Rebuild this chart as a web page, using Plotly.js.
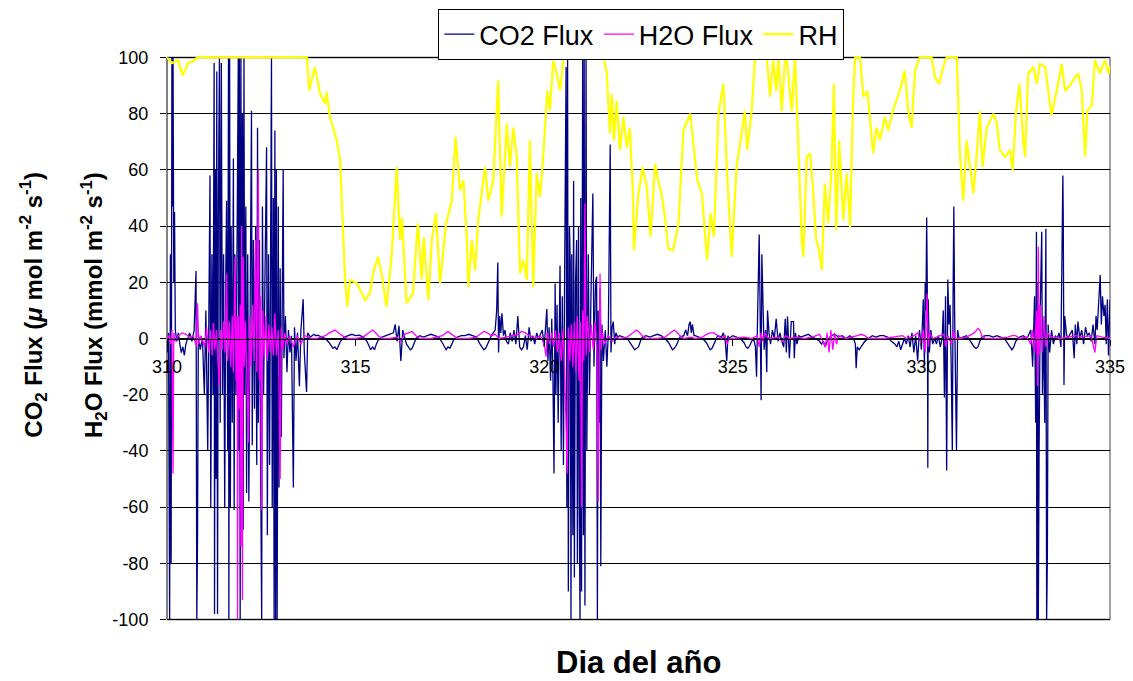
<!DOCTYPE html>
<html>
<head>
<meta charset="utf-8">
<script src="https://cdn.plot.ly/plotly-3.0.1.min.js"></script>
<style>
  html, body { margin: 0; padding: 0; background: #ffffff; }
  #chart { width: 1133px; height: 681px; }
</style>
</head>
<body>
<div id="chart"></div>
<script>
// Series names and axis labels
const seriesNames = ["CO2 Flux", "H2O Flux", "RH"];
const seriesColors = ["#000080", "#ff00ff", "#ffff00"];
const dayTicks = [310, 315, 320, 325, 330, 335];
const fluxTicks = [-100, -80, -60, -40, -20, 0, 20, 40, 60, 80, 100];

// CO2 flux [day of year, umol m-2 s-1]
const co2Series = [
  [310.00,0],[310.02,-5],[310.04,2],[310.07,-100],[310.09,30],[310.11,-80],[310.13,100],[310.15,47],[310.16,100],[310.18,20],
  [310.20,45],[310.22,3],[310.26,-1],[310.30,2],[310.34,-2],[310.38,-5],[310.42,-3],[310.46,-6],[310.50,-2],[310.54,0],
  [310.60,2],[310.66,-1],[310.72,3],[310.77,24],[310.79,-100],[310.81,-70],[310.83,2],[310.88,-4],[310.94,0],[310.99,-20],
  [311.03,10],[311.08,-40],[311.12,45],[311.14,58],[311.16,-60],[311.19,30],[311.22,-20],[311.25,98],[311.26,-98],[311.28,60],
  [311.30,-50],[311.32,95],[311.34,-98],[311.36,40],[311.39,100],[311.41,-30],[311.44,98],[311.47,-20],[311.50,30],[311.53,-60],
  [311.56,25],[311.58,49],[311.61,-40],[311.63,100],[311.64,-100],[311.66,100],[311.68,-60],[311.70,40],[311.73,-30],[311.76,64],
  [311.78,-61],[311.80,30],[311.83,-20],[311.86,55],[311.89,100],[311.90,-40],[311.92,100],[311.94,-100],[311.96,100],[311.98,-50],
  [312.00,80],[312.02,-68],[312.04,100],[312.06,-20],[312.09,47],[312.11,-55],[312.14,30],[312.17,-58],[312.20,20],[312.24,81],
  [312.26,-38],[312.29,35],[312.32,-25],[312.35,40],[312.38,-45],[312.40,75],[312.42,-30],[312.45,35],[312.48,-40],[312.51,-100],
  [312.53,47],[312.56,-20],[312.60,25],[312.64,68],[312.66,-70],[312.69,30],[312.72,-45],[312.75,40],[312.77,100],[312.79,-60],
  [312.82,50],[312.84,-100],[312.86,74],[312.88,-100],[312.90,60],[312.92,-100],[312.95,47],[312.97,-53],[313.00,25],[313.03,-35],
  [313.06,20],[313.08,60],[313.10,-7],[313.14,8],[313.18,-12],[313.22,3],[313.26,-5],[313.30,1],[313.35,-53],[313.38,4],
  [313.42,-8],[313.46,2],[313.51,-17],[313.55,3],[313.61,14],[313.64,-5],[313.70,-19],[313.73,2],[313.80,0.5],[313.85,1],
  [313.90,1.5],[313.95,1],[314.00,1.2],[314.10,0.5],[314.20,0],[314.30,-1.5],[314.35,-2.5],[314.40,-3.5],[314.45,-3],[314.50,-4],
  [314.55,-2.5],[314.60,-1],[314.70,0.5],[314.80,1],[314.90,1.5],[315.00,1],[315.10,1.2],[315.20,0.5],[315.30,-1],[315.35,-2.5],
  [315.40,-4],[315.45,-3],[315.50,-4],[315.55,-2],[315.60,-0.5],[315.70,0.5],[315.80,1],[315.90,1.5],[316.00,2],[316.05,5],
  [316.10,-1],[316.15,4.5],[316.20,-8],[316.25,3],[316.30,0],[316.35,-2],[316.40,-3],[316.45,-4],[316.50,-3.5],[316.55,-2],
  [316.60,0],[316.70,1],[316.80,0.5],[316.90,1],[317.00,1.5],[317.10,1],[317.20,0.5],[317.30,-1.5],[317.35,-3],[317.40,-4],
  [317.45,-3],[317.50,-3.5],[317.55,-2],[317.60,-0.5],[317.70,0.5],[317.80,1],[317.90,1],[318.00,1.5],[318.10,1],[318.20,0.5],
  [318.30,-2],[318.35,-3],[318.40,-4],[318.45,-3.5],[318.50,-2],[318.55,0],[318.60,1],[318.70,3],[318.74,10],[318.77,27],
  [318.79,-5],[318.82,8],[318.85,2],[318.88,9],[318.92,1],[318.96,3],[319.00,-1],[319.05,-2],[319.10,2],[319.15,-1],
  [319.20,3],[319.25,-2],[319.30,8],[319.35,-3],[319.40,-4],[319.45,-3],[319.50,1],[319.55,-4],[319.60,4],[319.65,-1],
  [319.70,1],[319.75,-2],[319.80,2],[319.85,0],[319.90,1.5],[319.95,3],[320.00,-3],[320.03,5],[320.07,10.5],[320.10,-8],
  [320.13,4],[320.17,-15],[320.20,7],[320.23,-12],[320.26,-48],[320.29,19.6],[320.31,-20],[320.34,12],[320.37,-30],[320.42,26],
  [320.45,-40],[320.48,15],[320.51,-45],[320.54,20],[320.58,96.6],[320.60,-60],[320.62,100],[320.64,-90],[320.67,40],[320.69,27],
  [320.71,-100],[320.73,30],[320.76,-70],[320.78,56],[320.80,-85],[320.83,20],[320.86,35],[320.88,-80],[320.91,40],[320.93,-60],
  [320.95,-100],[320.97,50],[320.99,-90],[321.02,100],[321.04,-70],[321.06,100],[321.08,-95],[321.11,100],[321.13,-40],[321.17,30],
  [321.20,-20],[321.24,15],[321.29,51.6],[321.32,-10],[321.36,20],[321.39,22],[321.41,-100],[321.43,10],[321.46,-30],[321.48,18],
  [321.50,-81],[321.53,5],[321.57,-8],[321.62,3],[321.66,-10],[321.70,2],[321.75,69],[321.77,-5],[321.80,4],[321.83,6],
  [321.87,-2],[321.90,2],[321.95,0.5],[322.00,1],[322.10,0.5],[322.20,0],[322.30,-2],[322.35,-3],[322.40,-4],[322.45,-3.5],
  [322.50,-3],[322.55,-1],[322.60,0.5],[322.70,1],[322.80,0.5],[322.90,1],[323.00,1.5],[323.10,1],[323.20,0],[323.30,-1.5],
  [323.35,-3],[323.40,-4],[323.45,-3.5],[323.50,-2.5],[323.55,-1],[323.60,0.5],[323.70,1],[323.75,3],[323.80,1],[323.84,5],
  [323.87,6],[323.90,2],[323.93,5],[323.97,1],[324.00,1],[324.10,0.5],[324.20,0],[324.30,-1.5],[324.35,-3],[324.40,-4],
  [324.45,-3.5],[324.50,-2],[324.55,-0.5],[324.60,1],[324.70,0.5],[324.75,2],[324.80,-1],[324.84,-8],[324.87,1],[324.90,0],
  [325.00,1],[325.10,0.5],[325.20,0],[325.30,-1.5],[325.35,-3],[325.40,-3.5],[325.45,-2.5],[325.50,-1],[325.55,0],[325.60,-3],
  [325.63,-13.6],[325.66,10],[325.68,20],[325.70,37],[325.72,15],[325.75,-22],[325.77,30],[325.80,5],[325.83,-4],[325.87,3],
  [325.90,-12],[325.92,10],[325.96,2],[326.00,-2],[326.05,3],[326.10,0],[326.15,7],[326.20,-1],[326.25,2],[326.30,-1],
  [326.35,-3],[326.39,7],[326.42,-5],[326.45,7.8],[326.50,-7],[326.55,6],[326.61,6],[326.63,-7],[326.66,2],[326.70,-2],
  [326.75,1],[326.80,0.5],[326.90,1],[327.00,1.5],[327.10,0.5],[327.20,0],[327.30,-1],[327.35,-2],[327.40,-1],[327.45,-3],
  [327.50,-1],[327.55,0],[327.60,1],[327.70,1.5],[327.80,0.5],[327.90,1],[328.00,0],[328.10,1],[328.20,0],[328.25,-2],
  [328.27,-10.6],[328.30,-3],[328.35,-4],[328.40,-3],[328.45,-2],[328.50,-1],[328.60,0],[328.70,1],[328.80,0.5],[328.90,1],
  [329.00,1],[329.10,0.5],[329.20,-1],[329.30,-2],[329.35,-3],[329.40,-1],[329.45,-4],[329.50,-2],[329.55,0],[329.60,-2],
  [329.65,1],[329.70,-3],[329.75,2],[329.80,-5],[329.85,1],[329.90,-8],[329.95,3],[330.00,-4],[330.03,8],[330.05,14],
  [330.08,-10],[330.10,20],[330.12,10],[330.14,43],[330.16,12],[330.17,-46],[330.18,14],[330.21,-5],[330.25,3],[330.30,-2],
  [330.35,0],[330.40,-2],[330.45,1],[330.50,-3],[330.55,0],[330.58,10],[330.61,-21],[330.64,15],[330.67,-47],[330.70,21],
  [330.73,5],[330.76,12],[330.79,-10],[330.82,-40],[330.84,15],[330.86,47],[330.88,10],[330.91,-15],[330.93,-40],[330.96,3],
  [331.00,0],[331.10,0.5],[331.20,1],[331.30,-1],[331.35,-2],[331.40,-3],[331.45,-3.5],[331.50,-3],[331.55,-1],[331.60,0.5],
  [331.70,1],[331.80,1],[331.90,0.5],[332.00,1],[332.10,0.5],[332.20,0],[332.30,-2],[332.35,-3],[332.40,-4],[332.45,-3],
  [332.50,-1],[332.60,0.5],[332.70,1],[332.80,0],[332.90,3],[332.95,-10],[333.00,15],[333.03,-30],[333.05,38],[333.06,-100],
  [333.07,-100],[333.08,-100],[333.09,20],[333.10,-100],[333.12,-40],[333.15,10],[333.19,38],[333.21,-20],[333.24,5],[333.27,-30],
  [333.30,39],[333.32,-100],[333.34,-77.5],[333.36,5],[333.40,-5],[333.45,3],[333.50,-2],[333.55,1],[333.60,0],[333.65,2],
  [333.70,-3],[333.75,58],[333.76,44],[333.78,-16.5],[333.80,8],[333.85,1],[333.90,0.5],[334.00,3],[334.05,-7],[334.08,5],
  [334.12,-2],[334.15,6],[334.20,0],[334.25,3],[334.30,-2],[334.35,4],[334.40,1],[334.45,2],[334.50,-1],[334.55,5],
  [334.60,-2],[334.63,8],[334.66,3],[334.70,12],[334.74,22.6],[334.77,5],[334.80,15],[334.84,8],[334.87,12],[334.90,-2],
  [334.93,14],[334.96,-6],[335.00,13.7]
];

// H2O flux [day of year, mmol m-2 s-1]
const h2oSeries = [
  [310.00,0],[310.05,1],[310.10,-2],[310.13,3],[310.16,-48],[310.18,2],[310.22,-1],[310.30,1],[310.40,2],[310.50,1.5],
  [310.60,0.5],[310.70,1],[310.78,-3],[310.81,12.5],[310.84,-2],[310.90,1],[311.00,-3],[311.05,4],[311.10,-5],[311.15,3],
  [311.20,-6],[311.23,5.5],[311.27,-4],[311.31,3],[311.35,-8],[311.39,-17],[311.42,3],[311.46,-4],[311.50,6],[311.54,-5],
  [311.58,23],[311.61,-8],[311.65,6],[311.69,-10],[311.73,8],[311.76,-12],[311.80,29],[311.83,-15],[311.86,8],[311.87,-100],
  [311.89,8],[311.92,-25],[311.94,12],[311.96,-74],[311.98,40],[312.00,-93],[312.02,29],[312.05,-10],[312.08,6],[312.12,-12],
  [312.16,-37],[312.19,8],[312.23,-10],[312.27,12],[312.31,-8],[312.35,35],[312.38,-12],[312.42,60],[312.45,-15],[312.48,15],
  [312.51,-61],[312.54,10],[312.58,-6],[312.62,8],[312.66,-8],[312.70,5],[312.74,-5],[312.78,4],[312.82,-6],[312.86,9],
  [312.90,-6],[312.95,3],[313.00,-50],[313.03,4],[313.07,-4],[313.12,2],[313.18,-2],[313.25,1],[313.35,-3],[313.45,1],
  [313.55,-2],[313.65,1],[313.75,0.5],[313.85,0],[313.95,0],[314.10,0.5],[314.20,1],[314.30,2],[314.40,2.5],[314.45,3],
  [314.50,2.5],[314.60,1.5],[314.70,0.5],[314.80,0],[315.00,0],[315.20,0.5],[315.30,1.5],[315.40,2.5],[315.45,3],[315.50,2.5],
  [315.60,1],[315.70,0],[315.90,0],[316.10,0.5],[316.20,-1],[316.30,1.5],[316.40,2],[316.50,2.5],[316.60,1],[316.70,0],
  [317.00,0],[317.20,0.5],[317.30,1],[317.40,2],[317.45,2.5],[317.50,2],[317.60,1],[317.70,0],[318.00,0],[318.20,0.5],
  [318.30,1.5],[318.40,2.5],[318.50,2],[318.60,1],[318.70,1.5],[318.80,0],[319.00,0.5],[319.20,1],[319.30,1.5],[319.40,2.5],
  [319.50,2],[319.60,1],[319.70,0.5],[319.80,0],[319.90,1],[320.00,-2],[320.05,-6.5],[320.08,2],[320.15,-2],[320.20,2],
  [320.25,-3],[320.30,3],[320.35,-5],[320.40,2],[320.45,-8],[320.50,3],[320.55,-15],[320.61,-48],[320.64,4],[320.68,-8],
  [320.72,5],[320.76,-10],[320.80,6],[320.84,-12],[320.88,8],[320.92,-15],[320.96,6],[320.99,-60],[321.02,10],[321.05,-8],
  [321.08,48],[321.11,-6],[321.15,8],[321.20,-5],[321.25,5],[321.30,-4],[321.35,6],[321.40,-6],[321.43,-58],[321.46,3],
  [321.48,23],[321.51,-4],[321.55,2],[321.60,-2],[321.70,1],[321.80,-1],[321.90,0.5],[322.00,0],[322.20,0.5],[322.30,1.5],
  [322.40,2.5],[322.45,3],[322.50,2.5],[322.60,1],[322.70,0],[323.00,0],[323.20,0.5],[323.30,1.5],[323.40,2.5],[323.45,3],
  [323.50,2.5],[323.60,1],[323.70,0],[323.90,0.5],[324.00,0],[324.20,0.5],[324.30,1.5],[324.40,2],[324.50,2],[324.60,1],
  [324.70,0],[324.80,1],[324.85,-2],[324.90,0],[325.00,0],[325.30,0.5],[325.50,0],[325.65,1],[325.70,-3],[325.75,2],
  [325.80,-1],[325.85,2],[325.90,0.5],[326.00,0],[326.20,0.5],[326.30,-1],[326.40,1],[326.50,0],[326.70,0.5],[326.90,0],
  [327.10,0.5],[327.30,1.5],[327.45,-3],[327.50,2],[327.55,-5],[327.60,3],[327.65,-4],[327.70,2],[327.75,-2],[327.80,1],
  [328.00,0],[328.30,1],[328.40,1.5],[328.50,1],[328.60,0],[329.00,0],[329.30,0.5],[329.50,1],[329.60,0],[329.80,1],
  [329.90,2],[330.00,-2],[330.05,3],[330.10,-5],[330.15,16],[330.18,-3],[330.22,2],[330.30,0],[330.50,1],[330.60,1.5],
  [330.65,-3],[330.70,1],[330.80,-2],[330.85,3],[330.90,0],[331.00,0],[331.20,0.5],[331.40,2],[331.50,3.6],[331.55,3],
  [331.60,1],[331.70,0],[332.00,0],[332.30,0.5],[332.40,1],[332.50,1],[332.60,0],[332.80,0.5],[332.90,-2],[332.95,3],
  [333.00,-5],[333.05,10],[333.08,-17],[333.10,32.6],[333.12,-6],[333.15,12],[333.20,-5],[333.25,8],[333.30,-3],[333.35,2],
  [333.40,1],[333.50,0.5],[333.70,0],[333.90,0.5],[334.10,1],[334.30,0.5],[334.50,1],[334.60,-5],[334.65,1],[334.80,0.5],
  [335.00,0]
];

// Relative humidity [day of year, %]
const rhSeries = [
  [310.00,100],[310.13,98],[310.29,99],[310.42,93.6],[310.56,98],[310.69,98.5],[310.80,100],[313.71,100],[313.77,88.3],[313.92,96.6],
  [314.06,87],[314.19,83.6],[314.23,87.7],[314.32,78.8],[314.50,70.5],[314.59,63.4],[314.66,41],[314.72,20.8],[314.78,11.3],[314.85,20.8],
  [315.03,19.7],[315.25,13.7],[315.38,16],[315.46,23],[315.59,29],[315.69,23],[315.82,11.3],[315.96,30.3],[316.09,61],[316.18,35],
  [316.23,43],[316.35,12.6],[316.52,16],[316.65,41],[316.75,21],[316.81,36],[316.93,13.7],[317.02,35],[317.13,44.5],[317.24,19.7],
  [317.40,41],[317.55,49],[317.65,71.7],[317.72,58.7],[317.77,52.7],[317.86,56.3],[317.95,35],[317.99,18.4],[318.08,35],[318.17,24.3],
  [318.25,42],[318.43,61],[318.52,49],[318.65,56.3],[318.78,91.8],[318.87,43.3],[319.01,76.5],[319.09,61],[319.18,75],[319.27,64.6],
  [319.36,23.2],[319.45,27.9],[319.54,20.8],[319.62,70.5],[319.71,18.4],[319.80,58.7],[319.89,50.4],[319.98,65.9],[320.08,88.3],[320.15,81],
  [320.24,98.9],[320.33,94.3],[320.42,88.3],[320.51,98.9],[320.60,100],[321.57,100],[321.66,94.3],[321.74,73],[321.79,87],[321.85,70.5],
  [321.92,84.7],[322.01,67],[322.10,78.8],[322.19,68],[322.27,75],[322.35,52.7],[322.38,31.4],[322.49,50.4],[322.61,61],[322.72,54],
  [322.82,36.2],[322.94,62.2],[323.02,56.3],[323.11,51.6],[323.20,43.3],[323.29,32],[323.42,31.4],[323.56,41],[323.69,74],[323.87,80],
  [323.96,68],[324.06,56.3],[324.18,51.6],[324.26,39.7],[324.32,27.9],[324.41,44.5],[324.50,36.2],[324.62,80],[324.75,90.6],[324.84,61],
  [324.93,39.7],[324.97,29],[325.10,61],[325.24,73],[325.32,81],[325.38,67],[325.50,81],[325.59,100],[325.90,100],[325.99,86],
  [326.07,99],[326.15,88],[326.21,100],[326.30,81],[326.38,99],[326.43,100],[326.56,81],[326.65,100],[326.74,70.5],[326.83,35],
  [326.87,29],[326.96,64.6],[327.05,65.9],[327.13,52.7],[327.21,35],[327.27,32.6],[327.36,24.3],[327.44,55],[327.53,41],[327.62,61],
  [327.68,90.6],[327.74,38.5],[327.82,70.5],[327.93,42],[328.02,58.7],[328.11,39.7],[328.18,81],[328.24,100],[328.37,100],[328.46,86],
  [328.57,88],[328.64,76.5],[328.72,65.9],[328.81,75],[328.90,70.5],[329.03,78.8],[329.12,74],[329.25,81.2],[329.43,88.3],[329.56,95.3],
  [329.65,81],[329.74,75],[329.83,95.3],[329.96,100],[330.27,100],[330.36,93],[330.47,90.6],[330.58,96.6],[330.67,100],[330.94,100],
  [331.02,65.9],[331.11,49],[331.20,70.5],[331.29,61],[331.38,51.6],[331.48,68],[331.55,81],[331.62,61],[331.73,75],[331.91,80],
  [332.00,76.5],[332.08,67],[332.22,64.6],[332.35,67],[332.42,59.9],[332.51,81],[332.60,90.6],[332.70,70.5],[332.75,64.6],[332.83,94.3],
  [332.97,96.6],[333.06,90.6],[333.14,97.7],[333.28,96.6],[333.36,88.3],[333.45,79.4],[333.59,88.3],[333.72,97.7],[333.81,88],[333.94,90],
  [334.07,93],[334.16,94],[334.25,88.3],[334.34,64.6],[334.40,81],[334.52,83],[334.60,99],[334.73,94.3],[334.87,99],[334.96,94.3],
  [335.00,97]
];

const FONT = "Arial, 'Liberation Sans', sans-serif";

function lineTrace(points, i, width) {
  return {
    type: "scatter",
    mode: "lines",
    name: seriesNames[i],
    x: points.map(p => p[0]),
    y: points.map(p => p[1]),
    line: { color: seriesColors[i], width: width },
    hoverinfo: "x+y+name"
  };
}

const traces = [
  lineTrace(co2Series, 0, 1.3),
  lineTrace(h2oSeries, 1, 1.3),
  lineTrace(rhSeries, 2, 2.2)
];

// Frame of the plot area: grey top, bottom and right edges
const frameLine = { color: "#a0a0a0", width: 2 };

const layout = {
  width: 1133,
  height: 681,
  margin: { l: 167, r: 23, t: 56, b: 60, pad: 0, autoexpand: false },
  paper_bgcolor: "#ffffff",
  plot_bgcolor: "#ffffff",
  font: { family: FONT, color: "#000000" },
  showlegend: true,
  legend: {
    orientation: "h",
    x: 0.503, xanchor: "center",
    y: 1.083, yanchor: "top",
    bordercolor: "#000000", borderwidth: 1,
    bgcolor: "#ffffff",
    font: { family: FONT, size: 27, color: "#000000" },
    itemwidth: 30,
    traceorder: "normal"
  },
  xaxis: {
    range: [310, 335],
    tickvals: dayTicks,
    ticktext: dayTicks.map(String),
    anchor: "free",
    position: 0.5,
    showline: true, linecolor: "#000000", linewidth: 1,
    ticks: "outside", ticklen: 6, tickcolor: "#000000",
    tickfont: { family: FONT, size: 18, color: "#000000" },
    ticklabelstandoff: 6,
    showgrid: false, zeroline: false,
    fixedrange: true
  },
  yaxis: {
    range: [-100.5, 100.5],
    tickvals: fluxTicks,
    ticktext: fluxTicks.map(String),
    showline: false,
    ticks: "outside", ticklen: 6, tickcolor: "#000000",
    tickfont: { family: FONT, size: 18, color: "#000000" },
    ticklabelstandoff: 8,
    showgrid: true, gridcolor: "#000000", gridwidth: 1,
    zeroline: false,
    fixedrange: true
  },
  shapes: [
    { type: "line", xref: "paper", yref: "y", x0: 0, x1: 0, y0: -100, y1: 100,
      line: { color: "#000000", width: 1 }, layer: "between" },
    { type: "line", xref: "paper", yref: "y", x0: 0, x1: 1, y0: 100, y1: 100,
      line: frameLine, layer: "between" },
    { type: "line", xref: "paper", yref: "y", x0: 0, x1: 1, y0: -100, y1: -100,
      line: frameLine, layer: "between" },
    { type: "line", xref: "paper", yref: "y", x0: 1, x1: 1, y0: -100, y1: 100,
      line: frameLine, layer: "between" }
  ],
  annotations: [
    { xref: "paper", yref: "paper", x: -0.142, y: 0.56, xanchor: "center", yanchor: "middle",
      textangle: -90, showarrow: false,
      text: "<b>CO<sub>2</sub> Flux (<i>μ</i> mol m<sup>-2</sup> s<sup>-1</sup>)</b>",
      font: { family: FONT, size: 24, color: "#000000" } },
    { xref: "paper", yref: "paper", x: -0.078, y: 0.56, xanchor: "center", yanchor: "middle",
      textangle: -90, showarrow: false,
      text: "<b>H<sub>2</sub>O Flux (mmol m<sup>-2</sup> s<sup>-1</sup>)</b>",
      font: { family: FONT, size: 24, color: "#000000" } },
    { xref: "paper", yref: "paper", x: 0.5, y: -0.074, xanchor: "center", yanchor: "middle",
      showarrow: false,
      text: "<b>Dia del año</b>",
      font: { family: FONT, size: 31, color: "#000000" } }
  ]
};

Plotly.newPlot("chart", traces, layout, { displayModeBar: false, staticPlot: true });
</script>
</body>
</html>
